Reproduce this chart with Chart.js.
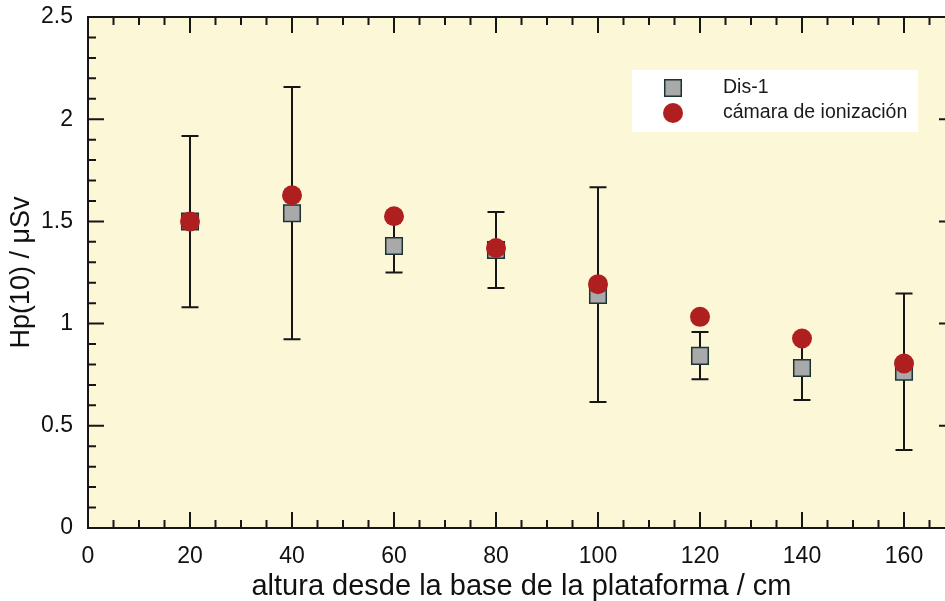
<!DOCTYPE html>
<html>
<head>
<meta charset="utf-8">
<script src="https://cdn.jsdelivr.net/npm/chart.js@4/dist/chart.umd.min.js"></script>
<style>
  html, body { margin: 0; padding: 0; overflow: hidden; background: #fff; }
  #wrap { width: 970px; height: 601px; }
</style>
</head>
<body>
<div id="wrap"><canvas id="myChart" width="970" height="601"></canvas></div>
<script>
'use strict'

// data
const heights = [20, 40, 60, 80, 100, 120, 140, 160]
const dis1 = [1.50, 1.54, 1.38, 1.36, 1.14, 0.842, 0.783, 0.764]
const dis1Low = [1.08, 0.924, 1.25, 1.174, 0.617, 0.728, 0.626, 0.381]
const dis1High = [1.918, 2.157, 1.516, 1.546, 1.667, 0.959, 0.94, 1.147]
const camara = [1.50, 1.628, 1.525, 1.37, 1.193, 1.033, 0.927, 0.805]
const seriesNames = ['Dis-1', 'cámara de ionización']
const xTitle = 'altura desde la base de la plataforma / cm'
const yTitle = 'Hp(10) / μSv'

const ink = '#161616'
const plotBg = '#fcf7d6'
const font = 'Liberation Sans, Arial, Helvetica, sans-serif'

const toPts = (ys) => heights.map((x, i) => ({ x: x, y: ys[i] }))

// yellow plot area
const plotArea = {
  id: 'plotArea',
  beforeDraw(chart) {
    const { ctx, chartArea: a } = chart
    ctx.save()
    ctx.fillStyle = plotBg
    ctx.fillRect(a.left, a.top, a.right - a.left, a.bottom - a.top)
    ctx.restore()
  }
}

// vertical error bars on Dis-1
const errorBars = {
  id: 'errorBars',
  beforeDatasetsDraw(chart) {
    const { ctx, scales: { x, y } } = chart
    ctx.save()
    ctx.strokeStyle = ink
    ctx.lineWidth = 2
    heights.forEach((h, i) => {
      const px = x.getPixelForValue(h)
      const y0 = y.getPixelForValue(dis1Low[i])
      const y1 = y.getPixelForValue(dis1High[i])
      ctx.beginPath()
      ctx.moveTo(px, y0); ctx.lineTo(px, y1)
      ctx.moveTo(px - 8.5, y0); ctx.lineTo(px + 8.5, y0)
      ctx.moveTo(px - 8.5, y1); ctx.lineTo(px + 8.5, y1)
      ctx.stroke()
    })
    ctx.restore()
  }
}

// frame with inward ticks on all four sides
const frame = {
  id: 'frame',
  afterDatasetsDraw(chart) {
    const { ctx, chartArea: a, scales: { x, y } } = chart
    ctx.save()
    ctx.strokeStyle = ink
    ctx.lineWidth = 2
    ctx.beginPath()
    for (let v = 0; v <= 170; v += 5) {
      const px = x.getPixelForValue(v)
      const len = v % 20 === 0 ? 16 : 8
      ctx.moveTo(px, a.bottom); ctx.lineTo(px, a.bottom - len)
      ctx.moveTo(px, a.top); ctx.lineTo(px, a.top + len)
    }
    for (let k = 0; k <= 25; k++) {
      const py = y.getPixelForValue(k / 10)
      const len = k % 5 === 0 ? 16 : 8
      ctx.moveTo(a.left, py); ctx.lineTo(a.left + len, py)
      ctx.moveTo(a.right, py); ctx.lineTo(a.right - len, py)
    }
    ctx.stroke()
    ctx.strokeRect(a.left, a.top, a.right - a.left, a.bottom - a.top)
    ctx.restore()
  }
}

// legend box inside the plot
const legendBox = {
  id: 'legendBox',
  afterDraw(chart) {
    const { ctx } = chart
    ctx.save()
    ctx.fillStyle = '#ffffff'
    ctx.fillRect(632, 70, 286, 62)
    const rows = [88, 113]
    chart.data.datasets.forEach((ds, i) => {
      ctx.fillStyle = ds.backgroundColor
      ctx.strokeStyle = ds.borderColor
      ctx.lineWidth = ds.borderWidth
      Chart.helpers.drawPoint(ctx, {
        pointStyle: ds.pointStyle, radius: ds.pointRadius, rotation: 0, borderWidth: ds.borderWidth
      }, 673, rows[i])
      ctx.fillStyle = '#1a1a1a'
      ctx.font = '19.5px ' + font
      ctx.textBaseline = 'middle'
      ctx.textAlign = 'left'
      ctx.fillText(ds.label, 723, rows[i])
    })
    ctx.restore()
  }
}

const ctx = document.getElementById('myChart')
// eslint-disable-next-line no-unused-vars
const myChart = new Chart(ctx, {
  type: 'scatter',
  data: {
    datasets: [{
      label: seriesNames[0],
      data: toPts(dis1),
      pointStyle: 'rect',
      pointRadius: 11.7,
      pointHoverRadius: 11.7,
      backgroundColor: '#a9a9a9',
      borderColor: '#1c3434',
      borderWidth: 1.5,
      order: 2
    }, {
      label: seriesNames[1],
      data: toPts(camara),
      pointStyle: 'circle',
      pointRadius: 10,
      pointHoverRadius: 10,
      backgroundColor: '#b01f1f',
      borderColor: '#b01f1f',
      borderWidth: 0,
      order: 1
    }]
  },
  options: {
    responsive: false,
    animation: false,
    devicePixelRatio: 1,
    layout: { padding: { top: 17, right: 15, left: 0, bottom: 0 } },
    plugins: {
      legend: { display: false },
      tooltip: { enabled: false }
    },
    scales: {
      x: {
        type: 'linear',
        min: 0,
        max: 170,
        grid: { display: false, drawTicks: false },
        border: { display: false },
        ticks: {
          stepSize: 20,
          includeBounds: false,
          padding: 15,
          color: '#111',
          font: { family: font, size: 23 },
          maxRotation: 0
        },
        title: {
          display: true,
          text: xTitle,
          color: '#111',
          font: { family: font, size: 29, lineHeight: 1 },
          padding: { top: 0, bottom: 0 }
        },
        afterFit(scale) {
          scale.height = 73
          scale.paddingLeft = 0
          scale.paddingRight = 0
        }
      },
      y: {
        type: 'linear',
        min: 0,
        max: 2.5,
        grid: { display: false, drawTicks: false },
        border: { display: false },
        ticks: {
          stepSize: 0.5,
          padding: 15,
          color: '#111',
          font: { family: font, size: 23 },
          callback: (v) => String(v)
        },
        title: {
          display: true,
          text: yTitle,
          color: '#111',
          font: { family: font, size: 27, lineHeight: 1 },
          padding: { top: 8.5, bottom: 0 }
        },
        afterFit(scale) {
          scale.width = 88
          scale.paddingTop = 0
          scale.paddingBottom = 0
        }
      }
    }
  },
  plugins: [plotArea, errorBars, frame, legendBox]
})
</script>
</body>
</html>
